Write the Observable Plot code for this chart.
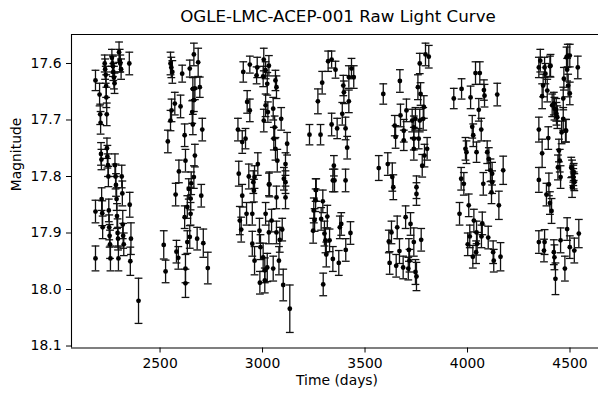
<!DOCTYPE html>
<html>
<head>
<meta charset="utf-8">
<script src="https://cdn.jsdelivr.net/npm/d3@7"></script>
<script src="https://cdn.jsdelivr.net/npm/@observablehq/plot@0.6"></script>
<style>
  html, body { margin: 0; padding: 0; background: #fff; }
  body { width: 598px; height: 394px; overflow: hidden; font-family: "DejaVu Sans", sans-serif; }
  #title { box-sizing: border-box; width: 598px; height: 32px; padding-left: 78px; text-align: center;
           font-size: 16.7px; line-height: 32px; color: #000; white-space: nowrap; }
</style>
</head>
<body>
<div id="title">OGLE-LMC-ACEP-001 Raw Light Curve</div>
<div id="chart"></div>
<script>
// Observations: [time (days), magnitude, error]
const season1 = [
  [2185,17.630,.018],[2185,17.862,.02],[2185,17.945,.022],
  [2205,17.655,.02],[2208,17.690,.018],[2210,17.705,.02],[2212,17.760,.02],[2214,17.770,.018],[2215,17.840,.02],[2218,17.865,.022],[2220,17.890,.02],
  [2230,17.600,.015],[2232,17.610,.018],[2235,17.620,.015],[2237,17.640,.02],[2238,17.660,.018],[2240,17.690,.02],[2241,17.750,.018],[2243,17.765,.02],[2246,17.780,.02],[2248,17.800,.018],[2250,17.860,.02],[2252,17.890,.022],[2254,17.905,.02],[2256,17.920,.025],[2258,17.945,.022],
  [2265,17.590,.015],[2268,17.600,.015],[2270,17.605,.018],[2272,17.615,.015],[2275,17.625,.02],[2278,17.635,.018],[2280,17.780,.02],[2283,17.800,.022],[2285,17.815,.02],[2288,17.840,.02],[2290,17.870,.022],[2293,17.900,.025],[2295,17.910,.02],[2297,17.945,.022],
  [2300,17.580,.018],[2303,17.595,.02],[2306,17.600,.015],[2310,17.610,.018],[2313,17.800,.02],[2316,17.830,.022],[2318,17.885,.025],[2320,17.905,.022],[2323,17.920,.02],
  [2350,17.600,.02],[2352,17.850,.022],[2355,17.950,.025],[2358,17.910,.028],
  [2395,18.020,.04]
];
const season2 = [
  [2551,17.600,.02],[2560,17.615,.02],[2555,17.607,.018],[2608,17.618,.015],[2665,17.584,.02],[2686,17.598,.025],[2645,17.609,.015],[2660,17.645,.02],[2670,17.644,.02],[2694,17.642,.018],
  [2556,17.683,.02],[2572,17.671,.02],[2600,17.676,.02],[2551,17.701,.018],[2657,17.686,.02],[2665,17.665,.02],[2538,17.738,.02],[2620,17.727,.02],[2660,17.708,.018],[2706,17.717,.02],
  [2624,17.772,.02],[2670,17.763,.02],[2592,17.791,.02],[2576,17.832,.02],[2640,17.822,.018],[2652,17.812,.02],[2665,17.801,.02],[2701,17.834,.02],[2633,17.854,.02],[2649,17.839,.02],
  [2620,17.872,.02],[2649,17.866,.02],[2518,17.921,.025],[2527,17.968,.02],[2580,17.933,.02],[2589,17.944,.02],[2633,17.916,.02],[2645,17.907,.02],[2681,17.910,.02],[2711,17.918,.025],
  [2624,17.963,.025],[2624,17.989,.025],[2733,17.962,.028]
];
const season3 = [
  [2906,17.615,.018],[2938,17.602,.015],[2974,17.607,.018],[3015,17.612,.015],[3006,17.593,.02],[3031,17.604,.018],[2971,17.621,.015],[3003,17.623,.018],[3023,17.636,.02],[3063,17.630,.018],[3068,17.642,.02],
  [2925,17.668,.02],[2938,17.683,.02],[3015,17.674,.02],[3026,17.686,.018],[3052,17.680,.02],[3006,17.701,.02],[3091,17.698,.02],[2880,17.717,.02],[2901,17.739,.02],[2917,17.733,.018],[3059,17.713,.02],[3055,17.733,.02],[3120,17.742,.02],[3063,17.751,.02],[3112,17.778,.02],
  [2884,17.795,.022],[2933,17.800,.022],[2977,17.778,.02],[2961,17.801,.02],[3034,17.814,.022],[3072,17.772,.02],[3104,17.804,.02],[2955,17.810,.02],[3031,17.814,.02],[3112,17.810,.02],[2901,17.834,.02],[2958,17.825,.02],[3068,17.837,.02],[3112,17.837,.02],
  [2889,17.878,.025],[2896,17.894,.022],[2922,17.866,.02],[2950,17.866,.02],[2985,17.896,.022],[3015,17.866,.02],[3031,17.899,.02],[3044,17.878,.02],[3068,17.899,.02],[3084,17.912,.022],[3096,17.894,.02],
  [2950,17.919,.022],[2961,17.949,.025],[2990,17.925,.022],[3003,17.943,.025],[3011,17.966,.022],[3023,17.961,.025],[3052,17.963,.022],[2987,17.988,.02],[3011,17.984,.022],[3080,17.949,.025],[3101,17.992,.028],[3133,18.034,.042]
];
const season4 = [
  [3337,17.593,.015],[3320,17.596,.018],[3356,17.611,.015],[3291,17.634,.02],[3270,17.667,.022],[3394,17.639,.018],[3397,17.651,.02],[3421,17.624,.02],[3434,17.609,.018],[3445,17.624,.02],[3421,17.667,.02],
  [3229,17.726,.018],[3283,17.726,.018],[3337,17.708,.02],[3364,17.715,.018],[3389,17.689,.02],[3405,17.715,.02],[3413,17.749,.02],[3348,17.781,.018],[3343,17.807,.02],[3351,17.807,.02],[3405,17.807,.02],
  [3259,17.824,.02],[3262,17.824,.02],[3259,17.842,.02],[3294,17.844,.02],[3250,17.860,.022],[3254,17.877,.02],[3247,17.896,.022],[3286,17.875,.02],[3316,17.871,.02],[3302,17.901,.022],[3307,17.913,.022],[3327,17.913,.02],
  [3311,17.938,.022],[3343,17.946,.022],[3372,17.953,.022],[3377,17.890,.02],[3384,17.884,.02],[3406,17.930,.02],[3429,17.900,.02],[3296,17.991,.02]
];
const season5 = [
  [3589,17.654,.018],[3670,17.631,.02],[3767,17.600,.018],[3795,17.584,.02],[3811,17.588,.02],[3758,17.642,.022],[3771,17.654,.02],[3787,17.677,.02],[3702,17.683,.02],[3673,17.692,.02],
  [3645,17.710,.018],[3649,17.730,.02],[3689,17.719,.02],[3730,17.701,.02],[3738,17.713,.02],[3746,17.698,.02],[3767,17.701,.02],[3784,17.698,.02],[3689,17.736,.018],[3738,17.733,.02],[3762,17.733,.018],[3738,17.751,.02],[3803,17.751,.02],[3790,17.763,.02],
  [3567,17.785,.022],[3611,17.778,.02],[3633,17.801,.025],[3779,17.781,.02],[3751,17.819,.02],[3638,17.819,.022],[3751,17.831,.02],
  [3616,17.915,.02],[3620,17.953,.02],[3629,17.899,.02],[3657,17.890,.02],[3668,17.932,.022],[3652,17.958,.02],[3686,17.961,.02],[3698,17.872,.02],[3722,17.884,.02],[3714,17.930,.02],[3717,17.949,.02],[3738,17.916,.025],[3746,17.969,.022],[3751,17.977,.025],[3774,17.912,.02],[3711,17.963,.02]
];
const season6 = [
  [3933,17.662,.018],[3971,17.645,.018],[4015,17.660,.02],[4039,17.617,.02],[4060,17.617,.02],[4080,17.647,.018],[4083,17.657,.02],[4145,17.655,.02],[4055,17.682,.02],[4023,17.712,.02],[4028,17.727,.02],[4067,17.717,.02],
  [3990,17.751,.02],[3995,17.757,.02],[4044,17.757,.018],[4096,17.757,.02],[4104,17.769,.02],[4112,17.789,.02],[4120,17.795,.02],[4174,17.789,.025],[3969,17.804,.02],[3982,17.813,.02],[4077,17.813,.02],[4120,17.810,.02],[4117,17.828,.02],
  [3961,17.866,.02],[4006,17.851,.02],[4031,17.878,.02],[4044,17.899,.02],[4072,17.883,.02],[4011,17.906,.02],[4001,17.920,.02],[4047,17.919,.02],[4026,17.942,.02],[4042,17.934,.02],[4068,17.906,.02],[4101,17.908,.02],[4125,17.934,.02],[4128,17.949,.02],[4153,17.851,.025],[4161,17.942,.025]
];
const season7 = [
  [4348,17.607,.018],[4355,17.595,.02],[4380,17.618,.018],[4405,17.604,.02],[4369,17.639,.02],[4389,17.648,.02],[4364,17.658,.022],[4413,17.674,.02],[4424,17.680,.02],[4434,17.689,.02],[4348,17.717,.022],[4394,17.732,.02],[4364,17.759,.025],
  [4483,17.589,.018],[4489,17.586,.02],[4499,17.586,.02],[4486,17.611,.02],[4470,17.627,.02],[4491,17.639,.02],[4499,17.653,.02],[4538,17.607,.02],[4467,17.662,.02],[4467,17.698,.02],[4459,17.722,.02],[4481,17.719,.02],
  [4376,17.607,.018],[4402,17.605,.018],[4421,17.671,.02],[4433,17.682,.02],[4438,17.695,.02],[4478,17.719,.02],[4446,17.754,.02],[4450,17.772,.02],[4441,17.784,.022],[4454,17.801,.02],
  [4506,17.784,.018],[4510,17.786,.015],[4516,17.795,.015],[4518,17.792,.015],[4516,17.801,.015],[4518,17.807,.015],[4521,17.810,.015],[4510,17.819,.018],[4348,17.806,.022],[4397,17.814,.02],[4385,17.832,.02],[4402,17.847,.02],[4410,17.861,.022],
  [4348,17.916,.02],[4373,17.931,.02],[4376,17.916,.022],[4421,17.934,.022],[4424,17.943,.022],[4429,17.981,.028],[4454,17.913,.022],[4486,17.893,.02],[4475,17.963,.022],[4499,17.925,.02],[4521,17.931,.022],[4543,17.901,.025]
];

const xTicks = [2500, 3000, 3500, 4000, 4500];
const yTicks = [17.6, 17.7, 17.8, 17.9, 18.0, 18.1];
const xDomain = [2068, 4639];
const yDomain = [17.5487, 18.1035];

const obs = [season1, season2, season3, season4, season5, season6, season7]
  .flat().map(([t, m, e]) => ({t, m, e}));

const cap = {
  draw(context, size) {
    const r = Math.sqrt(size / Math.PI);
    context.moveTo(-r, 0);
    context.lineTo(r, 0);
  }
};

const ink = "#000";
const chart = Plot.plot({
  width: 598,
  height: 362,
  marginTop: 2,
  marginBottom: 46.5,
  marginLeft: 71,
  marginRight: 0,
  style: {fontFamily: "DejaVu Sans, sans-serif", fontSize: "13.9px", color: ink, background: "#fff", overflow: "visible"},
  x: {domain: xDomain},
  y: {domain: yDomain, reverse: true},
  marks: [
    Plot.ruleX(obs, {x: "t", y1: d => d.m - d.e, y2: d => d.m + d.e, stroke: "#111", strokeWidth: 1.3}),
    Plot.dot(obs, {x: "t", y: d => d.m - d.e, symbol: cap, r: 3.9, stroke: "#111", strokeWidth: 1.3, fill: "none"}),
    Plot.dot(obs, {x: "t", y: d => d.m + d.e, symbol: cap, r: 3.9, stroke: "#111", strokeWidth: 1.3, fill: "none"}),
    Plot.dot(obs, {x: "t", y: "m", r: 2.4, fill: "#000", stroke: "none"}),
    Plot.ruleX([xDomain[0]], {stroke: ink, strokeWidth: 1.1}),
    Plot.ruleY([yDomain[0], yDomain[1]], {stroke: ink, strokeWidth: 1.1}),
    Plot.axisX({ticks: xTicks, tickFormat: d3.format("d"), tickSize: 5, tickPadding: 5, label: null, fontSize: 13.9, stroke: ink, fill: ink}),
    Plot.axisY({ticks: yTicks, tickFormat: d3.format(".1f"), tickSize: 5, tickPadding: 5, label: null, fontSize: 13.9, stroke: ink, fill: ink}),
    Plot.text(["Time (days)"], {frameAnchor: "bottom", dx: 2, dy: 36.5, fontSize: 13.9, fill: ink}),
    Plot.text(["Magnitude"], {frameAnchor: "left", rotate: -90, dx: -55, fontSize: 13.9, fill: ink})
  ]
});
document.getElementById("chart").appendChild(chart);
</script>
</body>
</html>
